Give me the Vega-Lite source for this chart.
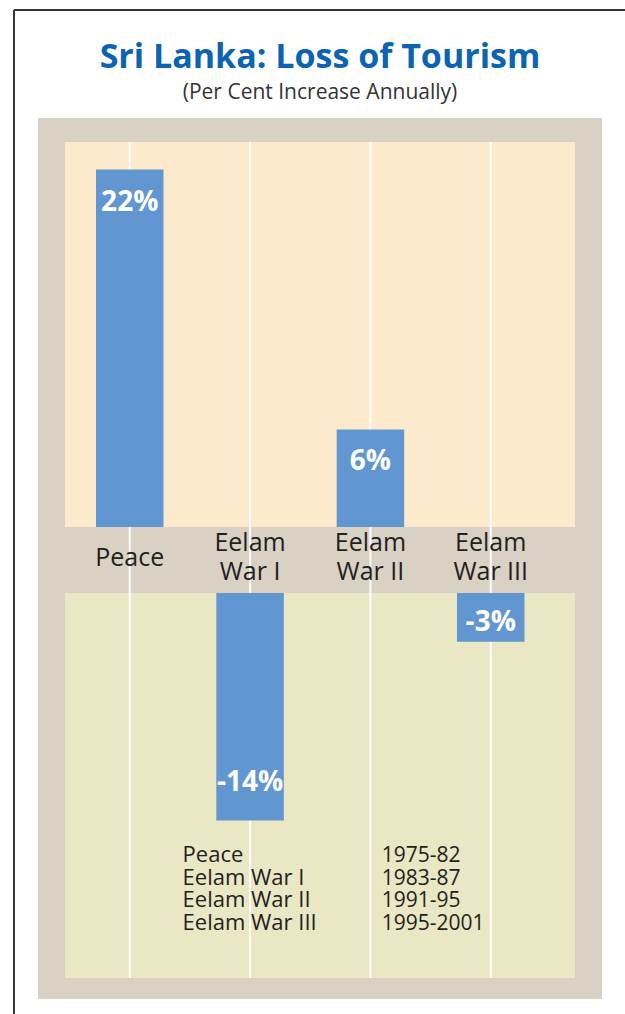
{
  "$schema": "https://vega.github.io/schema/vega-lite/v6.json",
  "width": 564,
  "height": 881,
  "autosize": {"type": "none"},
  "padding": {"left": 38, "top": 118, "right": 23, "bottom": 15},
  "background": "white",
  "config": {"view": {"fill": "#d9d1c4", "stroke": null}, "font": "Open Sans"},
  "title": {
    "text": "Sri Lanka: Loss of Tourism",
    "subtitle": "(Per Cent Increase Annually)",
    "anchor": "middle",
    "frame": "group",
    "font": "Open Sans",
    "fontSize": 34,
    "fontWeight": "bold",
    "color": "#0b63b1",
    "subtitleFont": "Open Sans",
    "subtitleFontSize": 21,
    "subtitleColor": "#333333",
    "subtitlePadding": 7,
    "offset": -94
  },
  "data": {
    "values": [
      {"period": "Peace", "value": 22, "years": "1975-82"},
      {"period": "Eelam War I", "value": -14, "years": "1983-87"},
      {"period": "Eelam War II", "value": 6, "years": "1991-95"},
      {"period": "Eelam War III", "value": -3, "years": "1995-2001"}
    ]
  },
  "resolve": {"scale": {"y": "independent"}},
  "layer": [
    {
      "data": {"values": [{}]},
      "mark": {"type": "rect", "fill": "#fde9cb"},
      "encoding": {
        "x": {"datum": "Peace", "type": "nominal", "bandPosition": -0.459, "axis": null,
          "scale": {"domain": ["Peace", "Eelam War I", "Eelam War II", "Eelam War III"], "paddingInner": 0.439, "paddingOuter": 0.563, "align": 0.428, "round": false}},
        "x2": {"datum": "Eelam War III", "bandPosition": 1.748},
        "y": {"datum": 0, "type": "quantitative", "axis": null, "scale": {"domain": [-29.05, 25.17], "nice": false, "zero": false}},
        "y2": {"datum": 23.69}
      }
    },
    {
      "data": {"values": [{}]},
      "mark": {"type": "rect", "fill": "#e9e7c4"},
      "encoding": {
        "x": {"datum": "Peace", "type": "nominal", "bandPosition": -0.459, "axis": null},
        "x2": {"datum": "Eelam War III", "bandPosition": 1.748},
        "y": {"datum": 0, "type": "quantitative", "axis": null, "scale": {"domain": [-24.98, 29.23], "nice": false, "zero": false}},
        "y2": {"datum": -23.69}
      }
    },
    {
      "data": {"values": [{}]},
      "mark": {"type": "rule", "stroke": "#333333", "strokeWidth": 2},
      "encoding": {
        "x": {"datum": "Peace", "type": "nominal", "bandPosition": -1.215, "axis": null},
        "y": {"datum": 31.82, "type": "quantitative", "axis": null, "scale": {"domain": [-29.05, 25.17], "nice": false, "zero": false}},
        "y2": {"datum": -30.5}
      }
    },
    {
      "data": {"values": [{}]},
      "mark": {"type": "rule", "stroke": "#333333", "strokeWidth": 2},
      "encoding": {
        "x": {"datum": "Peace", "type": "nominal", "bandPosition": -1.215, "axis": null},
        "x2": {"datum": "Eelam War III", "bandPosition": 2.7},
        "y": {"datum": 31.82, "type": "quantitative", "axis": null, "scale": {"domain": [-29.05, 25.17], "nice": false, "zero": false}}
      }
    },
    {
      "mark": {"type": "rule", "stroke": "#ffffff", "strokeWidth": 2, "strokeOpacity": 0.9},
      "encoding": {
        "x": {"field": "period", "type": "nominal", "axis": null},
        "y": {"datum": 23.69, "type": "quantitative", "axis": null, "scale": {"domain": [-29.05, 25.17], "nice": false, "zero": false}},
        "y2": {"datum": -27.75}
      }
    },
    {
      "transform": [{"filter": "datum.value > 0"}],
      "mark": {"type": "bar", "color": "#6196d1"},
      "encoding": {
        "x": {"field": "period", "type": "nominal", "axis": null},
        "y": {"field": "value", "type": "quantitative", "axis": null, "scale": {"domain": [-29.05, 25.17], "nice": false, "zero": false}},
        "y2": {"datum": 0}
      }
    },
    {
      "transform": [{"filter": "datum.value < 0"}],
      "mark": {"type": "bar", "color": "#6196d1"},
      "encoding": {
        "x": {"field": "period", "type": "nominal", "axis": null},
        "y": {"field": "value", "type": "quantitative", "axis": null, "scale": {"domain": [-24.98, 29.23], "nice": false, "zero": false}},
        "y2": {"datum": 0}
      }
    },
    {
      "transform": [{"filter": "datum.value > 0"}],
      "mark": {"type": "text", "color": "#ffffff", "fontSize": 28, "fontWeight": "bold", "baseline": "middle", "dy": 33, "text": {"expr": "datum.value + '%'"}},
      "encoding": {
        "x": {"field": "period", "type": "nominal", "axis": null},
        "y": {"field": "value", "type": "quantitative", "axis": null, "scale": {"domain": [-29.05, 25.17], "nice": false, "zero": false}}
      }
    },
    {
      "transform": [{"filter": {"field": "period", "equal": "Eelam War I"}}],
      "mark": {"type": "text", "color": "#ffffff", "fontSize": 28, "fontWeight": "bold", "baseline": "middle", "dy": -38, "text": {"expr": "datum.value + '%'"}},
      "encoding": {
        "x": {"field": "period", "type": "nominal", "axis": null},
        "y": {"field": "value", "type": "quantitative", "axis": null, "scale": {"domain": [-24.98, 29.23], "nice": false, "zero": false}}
      }
    },
    {
      "transform": [{"filter": {"field": "period", "equal": "Eelam War III"}}],
      "mark": {"type": "text", "color": "#ffffff", "fontSize": 28, "fontWeight": "bold", "baseline": "middle", "dy": -19, "text": {"expr": "datum.value + '%'"}},
      "encoding": {
        "x": {"field": "period", "type": "nominal", "axis": null},
        "y": {"field": "value", "type": "quantitative", "axis": null, "scale": {"domain": [-24.98, 29.23], "nice": false, "zero": false}}
      }
    },
    {
      "transform": [{"filter": {"field": "period", "equal": "Peace"}}],
      "mark": {"type": "text", "color": "#231f20", "fontSize": 25, "baseline": "middle"},
      "encoding": {
        "x": {"field": "period", "type": "nominal", "axis": null},
        "y": {"datum": -1.91, "type": "quantitative", "axis": null, "scale": {"domain": [-29.05, 25.17], "nice": false, "zero": false}},
        "text": {"field": "period"}
      }
    },
    {
      "transform": [{"filter": "datum.period != 'Peace'"}],
      "mark": {"type": "text", "color": "#231f20", "fontSize": 25, "baseline": "middle", "lineHeight": 29,
        "text": {"expr": "['Eelam', replace(datum.period, 'Eelam ', '')]"}},
      "encoding": {
        "x": {"field": "period", "type": "nominal", "axis": null},
        "y": {"datum": -0.986, "type": "quantitative", "axis": null, "scale": {"domain": [-29.05, 25.17], "nice": false, "zero": false}}
      }
    },
    {
      "mark": {"type": "text", "color": "#231f20", "fontSize": 22, "align": "left", "baseline": "alphabetic"},
      "encoding": {
        "x": {"datum": "Eelam War I", "type": "nominal", "bandPosition": -0.5, "axis": null},
        "y": {"field": "period", "type": "nominal", "axis": null, "sort": null,
          "scale": {"type": "point", "domain": ["Peace", "Eelam War I", "Eelam War II", "Eelam War III"], "range": [744, 812], "padding": 0, "round": false}},
        "text": {"field": "period"}
      }
    },
    {
      "mark": {"type": "text", "color": "#231f20", "fontSize": 21, "align": "left", "baseline": "alphabetic"},
      "encoding": {
        "x": {"datum": "Eelam War II", "type": "nominal", "bandPosition": 0.667, "axis": null},
        "y": {"field": "period", "type": "nominal", "axis": null, "sort": null,
          "scale": {"type": "point", "domain": ["Peace", "Eelam War I", "Eelam War II", "Eelam War III"], "range": [744, 812], "padding": 0, "round": false}},
        "text": {"field": "years"}
      }
    }
  ]
}
